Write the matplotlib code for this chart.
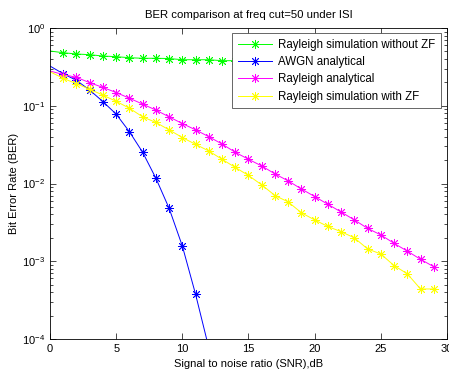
import matplotlib
matplotlib.use("Agg")
import matplotlib.pyplot as plt

plt.rcParams["font.family"] = ["Liberation Sans", "DejaVu Sans"]
plt.rcParams["font.size"] = 8

snr_db = list(range(30))

ber_no_zf = [0.506, 0.481, 0.463, 0.454, 0.436, 0.428, 0.415, 0.408, 0.408, 0.405,
             0.391, 0.391, 0.391, 0.38, 0.38, 0.379, 0.378, 0.378, 0.377, 0.377,
             0.376, 0.376, 0.376, 0.375, 0.375, 0.375, 0.375, 0.374, 0.374, 0.374]

snr_awgn = list(range(13))
ber_awgn = [0.324, 0.258, 0.212, 0.159, 0.113, 0.078, 0.0464, 0.0252, 0.0117,
            0.0048, 0.00157, 0.000376, 0.000077]

ber_rayleigh = [0.280, 0.252, 0.232, 0.198, 0.172, 0.148, 0.125, 0.105, 0.088, 0.072,
                0.059, 0.049, 0.040, 0.0322, 0.0252, 0.0205, 0.0168, 0.0133, 0.0108, 0.0085,
                0.0068, 0.0054, 0.0043, 0.0034, 0.00265, 0.00218, 0.0017, 0.00135, 0.00106, 0.00085]

ber_zf = [0.274, 0.225, 0.192, 0.163, 0.137, 0.114, 0.093, 0.072, 0.061, 0.049,
          0.039, 0.0319, 0.0262, 0.0205, 0.0161, 0.0127, 0.0096, 0.0070, 0.0058, 0.0042,
          0.0034, 0.0028, 0.0024, 0.0020, 0.00144, 0.00124, 0.00088, 0.00069, 0.00044, 0.00044]

fig = plt.figure(figsize=(4.49, 3.74), dpi=100)
ax = fig.add_axes([0.1114, 0.0936, 0.8841, 0.8315])

star = (8, 2, 0)
kw = dict(marker=star, markersize=6.5, linewidth=0.7, markeredgewidth=0.6, markevery=slice(1, None))
ax.semilogy(snr_db, ber_no_zf, color=(0, 1, 0), label="Rayleigh simulation without ZF", **kw)
ax.semilogy(snr_awgn, ber_awgn, color=(0, 0, 1), label="AWGN analytical", **kw)
ax.semilogy(snr_db, ber_rayleigh, color=(1, 0, 1), label="Rayleigh analytical", **kw)
ax.semilogy(snr_db, ber_zf, color=(1, 1, 0), label="Rayleigh simulation with ZF", **kw)

ax.set_xlim(0, 30)
ax.set_ylim(1e-4, 1)
ax.set_xticks([0, 5, 10, 15, 20, 25, 30])
ax.tick_params(which="both", direction="in", top=True, right=True, width=0.5)
ax.tick_params(which="major", length=4)
ax.tick_params(which="minor", length=2)
for s in ax.spines.values():
    s.set_linewidth(0.6)

ax.set_title("BER comparison at freq cut=50 under ISI", fontsize=8.2, pad=7)
ax.set_xlabel("Signal to noise ratio (SNR),dB", labelpad=4)
ax.set_ylabel("Bit Error Rate (BER)", labelpad=2)

leg = ax.legend(loc="upper right", bbox_to_anchor=(0.985, 0.983), borderaxespad=0,
                fancybox=False, framealpha=1, edgecolor="0.3", handlelength=3.0,
                handletextpad=0.5, labelspacing=0.45, borderpad=0.5, fontsize=8.3)
leg.get_frame().set_linewidth(0.6)

fig.savefig("out.png", dpi=100)
